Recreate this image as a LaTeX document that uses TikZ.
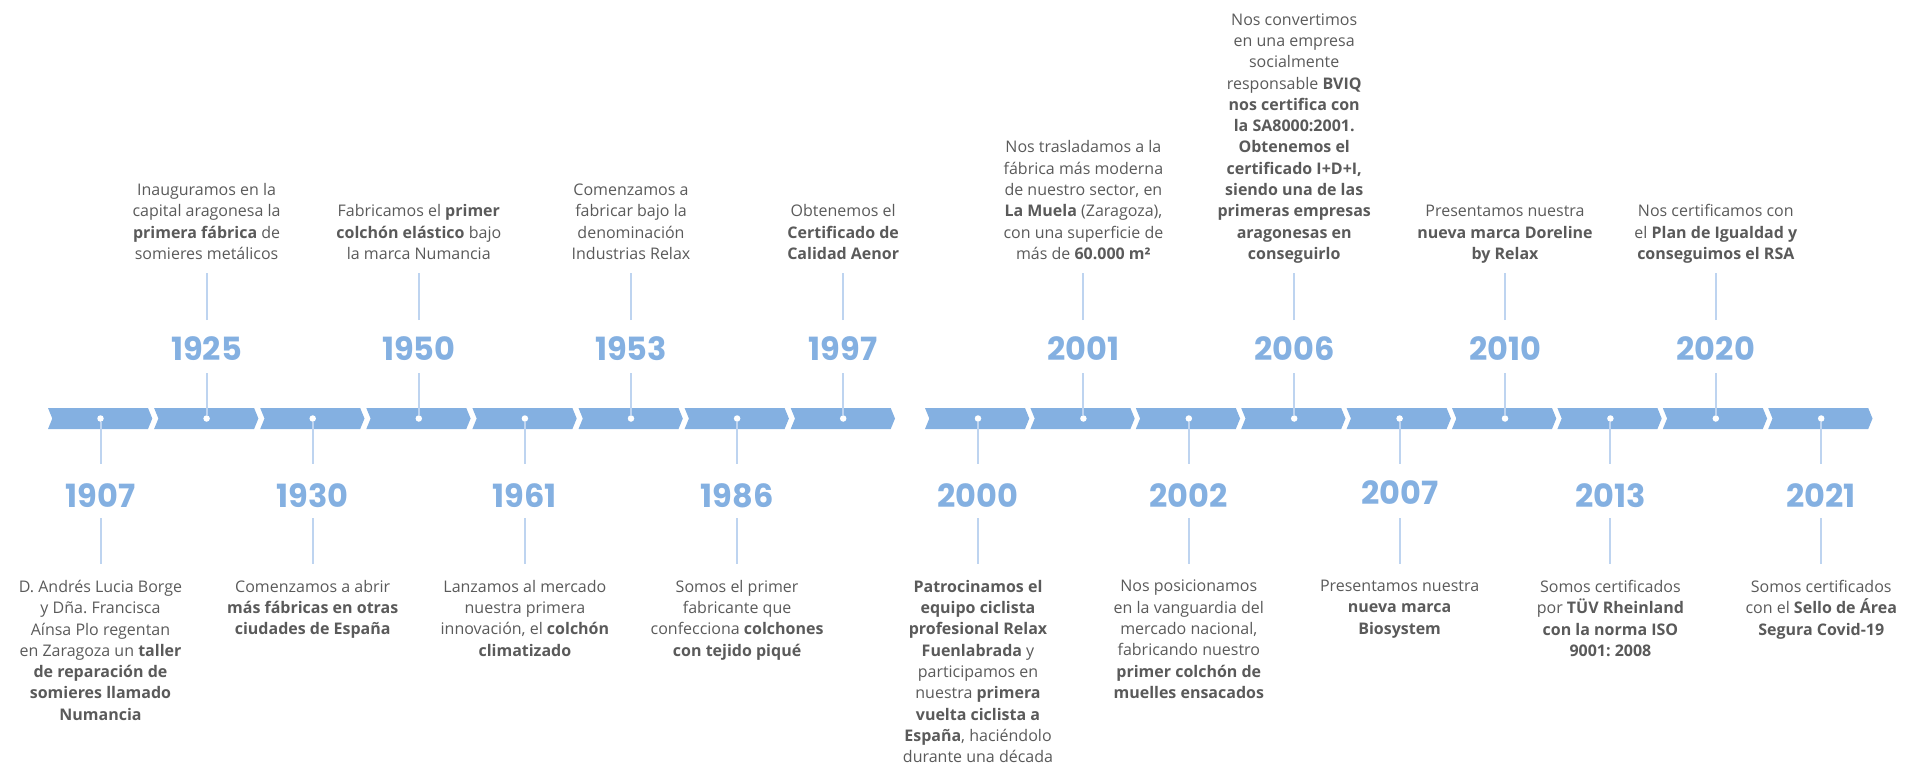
\documentclass[tikz,border=0pt]{standalone}
\usepackage{fontspec}
\setmainfont{Open Sans}
\newfontfamily\yearfont{Poppins}
\definecolor{chevblue}{HTML}{84B0E1}
\definecolor{stemblue}{HTML}{BED4F0}
\definecolor{bodygray}{HTML}{5A5A5A}
\frenchspacing

\begin{document}
\begin{tikzpicture}[x=1pt,y=-1pt]
			\tikzstyle{every node}+=[inner sep=0pt]
			\tikzstyle{chev}=[fill=chevblue]
			\tikzstyle{stem}=[draw=stemblue, line width=2pt]
			\tikzstyle{dot}=[circle, fill=white, minimum size=6.5pt]
			\tikzstyle{year}=[text=chevblue, font=\yearfont\bfseries\fontsize{32}{32}\selectfont]
			\tikzstyle{upper}=[anchor=south, align=center, text=bodygray, font=\fontsize{16}{21.3}\selectfont, execute at end node=\strut]
			\tikzstyle{lower}=[anchor=north, align=center, text=bodygray, font=\fontsize{16}{21.3}\selectfont, execute at begin node=\strut]
			\useasboundingbox (0,0) rectangle (1908,766);
			% left band
			\fill [chev] (48,408) -- ++(100,0) -- ++(4.3,10.5) -- ++(-4.3,10.5) -- ++(-100,0) -- ++(4.3,-10.5) -- cycle;
			\fill [chev] (154.1,408) -- ++(100,0) -- ++(4.3,10.5) -- ++(-4.3,10.5) -- ++(-100,0) -- ++(4.3,-10.5) -- cycle;
			\fill [chev] (260.2,408) -- ++(100,0) -- ++(4.3,10.5) -- ++(-4.3,10.5) -- ++(-100,0) -- ++(4.3,-10.5) -- cycle;
			\fill [chev] (366.3,408) -- ++(100,0) -- ++(4.3,10.5) -- ++(-4.3,10.5) -- ++(-100,0) -- ++(4.3,-10.5) -- cycle;
			\fill [chev] (472.4,408) -- ++(100,0) -- ++(4.3,10.5) -- ++(-4.3,10.5) -- ++(-100,0) -- ++(4.3,-10.5) -- cycle;
			\fill [chev] (578.5,408) -- ++(100,0) -- ++(4.3,10.5) -- ++(-4.3,10.5) -- ++(-100,0) -- ++(4.3,-10.5) -- cycle;
			\fill [chev] (684.6,408) -- ++(100,0) -- ++(4.3,10.5) -- ++(-4.3,10.5) -- ++(-100,0) -- ++(4.3,-10.5) -- cycle;
			\fill [chev] (790.7,408) -- ++(100,0) -- ++(4.3,10.5) -- ++(-4.3,10.5) -- ++(-100,0) -- ++(4.3,-10.5) -- cycle;
			% right band
			\fill [chev] (925,408) -- ++(100,0) -- ++(4.3,10.5) -- ++(-4.3,10.5) -- ++(-100,0) -- ++(4.3,-10.5) -- cycle;
			\fill [chev] (1030.4,408) -- ++(100,0) -- ++(4.3,10.5) -- ++(-4.3,10.5) -- ++(-100,0) -- ++(4.3,-10.5) -- cycle;
			\fill [chev] (1135.8,408) -- ++(100,0) -- ++(4.3,10.5) -- ++(-4.3,10.5) -- ++(-100,0) -- ++(4.3,-10.5) -- cycle;
			\fill [chev] (1241.2,408) -- ++(100,0) -- ++(4.3,10.5) -- ++(-4.3,10.5) -- ++(-100,0) -- ++(4.3,-10.5) -- cycle;
			\fill [chev] (1346.6,408) -- ++(100,0) -- ++(4.3,10.5) -- ++(-4.3,10.5) -- ++(-100,0) -- ++(4.3,-10.5) -- cycle;
			\fill [chev] (1452,408) -- ++(100,0) -- ++(4.3,10.5) -- ++(-4.3,10.5) -- ++(-100,0) -- ++(4.3,-10.5) -- cycle;
			\fill [chev] (1557.4,408) -- ++(100,0) -- ++(4.3,10.5) -- ++(-4.3,10.5) -- ++(-100,0) -- ++(4.3,-10.5) -- cycle;
			\fill [chev] (1662.8,408) -- ++(100,0) -- ++(4.3,10.5) -- ++(-4.3,10.5) -- ++(-100,0) -- ++(4.3,-10.5) -- cycle;
			\fill [chev] (1768.2,408) -- ++(100,0) -- ++(4.3,10.5) -- ++(-4.3,10.5) -- ++(-100,0) -- ++(4.3,-10.5) -- cycle;
			% 1907
			\node [dot] (d1907) at (100.5,418.5) {};
			\coordinate (s1907) at (100.5,464);
			\node [year] (y1907) at (100.5,496) {1907};
			\coordinate (a1907) at (100.5,518);
			\coordinate (b1907) at (100.5,564);
			\node [lower] (t1907) at (100.5,580) {D. Andrés Lucia Borge\\ y Dña. Francisca\\ Aínsa Plo regentan\\ en Zaragoza un \textbf{taller}\\ \textbf{de reparación de}\\ \textbf{somieres llamado}\\ \textbf{Numancia}};
			% 1925
			\node [dot] (d1925) at (206.6,418.5) {};
			\coordinate (s1925) at (206.6,373);
			\node [year] (y1925) at (206.6,349) {1925};
			\coordinate (a1925) at (206.6,320);
			\coordinate (b1925) at (206.6,273);
			\node [upper] (t1925) at (206.6,266) {Inauguramos en la\\ capital aragonesa la\\ \textbf{primera fábrica} de\\ somieres metálicos};
			% 1930
			\node [dot] (d1930) at (312.7,418.5) {};
			\coordinate (s1930) at (312.7,464);
			\node [year] (y1930) at (312.7,496) {1930};
			\coordinate (a1930) at (312.7,518);
			\coordinate (b1930) at (312.7,564);
			\node [lower] (t1930) at (312.7,580) {Comenzamos a abrir\\ \textbf{más fábricas en otras}\\ \textbf{ciudades de España}};
			% 1950
			\node [dot] (d1950) at (418.8,418.5) {};
			\coordinate (s1950) at (418.8,373);
			\node [year] (y1950) at (418.8,349) {1950};
			\coordinate (a1950) at (418.8,320);
			\coordinate (b1950) at (418.8,273);
			\node [upper] (t1950) at (418.8,266) {Fabricamos el \textbf{primer}\\ \textbf{colchón elástico} bajo\\ la marca Numancia};
			% 1961
			\node [dot] (d1961) at (524.9,418.5) {};
			\coordinate (s1961) at (524.9,464);
			\node [year] (y1961) at (524.9,496) {1961};
			\coordinate (a1961) at (524.9,518);
			\coordinate (b1961) at (524.9,564);
			\node [lower] (t1961) at (524.9,580) {Lanzamos al mercado\\ nuestra primera\\ innovación, el \textbf{colchón}\\ \textbf{climatizado}};
			% 1953
			\node [dot] (d1953) at (631,418.5) {};
			\coordinate (s1953) at (631,373);
			\node [year] (y1953) at (631,349) {1953};
			\coordinate (a1953) at (631,320);
			\coordinate (b1953) at (631,273);
			\node [upper] (t1953) at (631,266) {Comenzamos a\\ fabricar bajo la\\ denominación\\ Industrias Relax};
			% 1986
			\node [dot] (d1986) at (737.1,418.5) {};
			\coordinate (s1986) at (737.1,464);
			\node [year] (y1986) at (737.1,496) {1986};
			\coordinate (a1986) at (737.1,518);
			\coordinate (b1986) at (737.1,564);
			\node [lower] (t1986) at (737.1,580) {Somos el primer\\ fabricante que\\ confecciona \textbf{colchones}\\ \textbf{con tejido piqué}};
			% 1997
			\node [dot] (d1997) at (843.2,418.5) {};
			\coordinate (s1997) at (843.2,373);
			\node [year] (y1997) at (843.2,349) {1997};
			\coordinate (a1997) at (843.2,320);
			\coordinate (b1997) at (843.2,273);
			\node [upper] (t1997) at (843.2,266) {Obtenemos el\\ \textbf{Certificado de}\\ \textbf{Calidad Aenor}};
			% 2000
			\node [dot] (d2000) at (978,418.5) {};
			\coordinate (s2000) at (978,464);
			\node [year] (y2000) at (978,496) {2000};
			\coordinate (a2000) at (978,518);
			\coordinate (b2000) at (978,564);
			\node [lower] (t2000) at (978,580) {\textbf{Patrocinamos el}\\ \textbf{equipo ciclista}\\ \textbf{profesional Relax}\\ \textbf{Fuenlabrada} y\\ participamos en\\ nuestra \textbf{primera}\\ \textbf{vuelta ciclista a}\\ \textbf{España}, haciéndolo\\ durante una década};
			% 2001
			\node [dot] (d2001) at (1083.4,418.5) {};
			\coordinate (s2001) at (1083.4,373);
			\node [year] (y2001) at (1083.4,349) {2001};
			\coordinate (a2001) at (1083.4,320);
			\coordinate (b2001) at (1083.4,273);
			\node [upper] (t2001) at (1083.4,266) {Nos trasladamos a la\\ fábrica más moderna\\ de nuestro sector, en\\ \textbf{La Muela} (Zaragoza),\\ con una superficie de\\ más de \textbf{60.000 m²}};
			% 2002
			\node [dot] (d2002) at (1188.8,418.5) {};
			\coordinate (s2002) at (1188.8,464);
			\node [year] (y2002) at (1188.8,496) {2002};
			\coordinate (a2002) at (1188.8,518);
			\coordinate (b2002) at (1188.8,564);
			\node [lower] (t2002) at (1188.8,580) {Nos posicionamos\\ en la vanguardia del\\ mercado nacional,\\ fabricando nuestro\\ \textbf{primer colchón de}\\ \textbf{muelles ensacados}};
			% 2006
			\node [dot] (d2006) at (1294.2,418.5) {};
			\coordinate (s2006) at (1294.2,373);
			\node [year] (y2006) at (1294.2,349) {2006};
			\coordinate (a2006) at (1294.2,320);
			\coordinate (b2006) at (1294.2,273);
			\node [upper] (t2006) at (1294.2,266) {Nos convertimos\\ en una empresa\\ socialmente\\ responsable \textbf{BVIQ}\\ \textbf{nos certifica con}\\ \textbf{la SA8000:2001.}\\ \textbf{Obtenemos el}\\ \textbf{certificado I+D+I,}\\ \textbf{siendo una de las}\\ \textbf{primeras empresas}\\ \textbf{aragonesas en}\\ \textbf{conseguirlo}};
			% 2007
			\node [dot] (d2007) at (1399.6,418.5) {};
			\coordinate (s2007) at (1399.6,464);
			\node [year] (y2007) at (1399.6,493) {2007};
			\coordinate (a2007) at (1399.6,518);
			\coordinate (b2007) at (1399.6,564);
			\node [lower] (t2007) at (1399.6,580) {Presentamos nuestra\\ \textbf{nueva marca}\\ \textbf{Biosystem}};
			% 2010
			\node [dot] (d2010) at (1505,418.5) {};
			\coordinate (s2010) at (1505,373);
			\node [year] (y2010) at (1505,349) {2010};
			\coordinate (a2010) at (1505,320);
			\coordinate (b2010) at (1505,273);
			\node [upper] (t2010) at (1505,266) {Presentamos nuestra\\ \textbf{nueva marca Doreline}\\ \textbf{by Relax}};
			% 2013
			\node [dot] (d2013) at (1610.4,418.5) {};
			\coordinate (s2013) at (1610.4,464);
			\node [year] (y2013) at (1610.4,496) {2013};
			\coordinate (a2013) at (1610.4,518);
			\coordinate (b2013) at (1610.4,564);
			\node [lower] (t2013) at (1610.4,580) {Somos certificados\\ por \textbf{TÜV Rheinland}\\ \textbf{con la norma ISO}\\ \textbf{9001: 2008}};
			% 2020
			\node [dot] (d2020) at (1715.8,418.5) {};
			\coordinate (s2020) at (1715.8,373);
			\node [year] (y2020) at (1715.8,349) {2020};
			\coordinate (a2020) at (1715.8,320);
			\coordinate (b2020) at (1715.8,273);
			\node [upper] (t2020) at (1715.8,266) {Nos certificamos con\\ el \textbf{Plan de Igualdad y}\\ \textbf{conseguimos el RSA}};
			% 2021
			\node [dot] (d2021) at (1821.2,418.5) {};
			\coordinate (s2021) at (1821.2,464);
			\node [year] (y2021) at (1821.2,496) {2021};
			\coordinate (a2021) at (1821.2,518);
			\coordinate (b2021) at (1821.2,564);
			\node [lower] (t2021) at (1821.2,580) {Somos certificados\\ con el \textbf{Sello de Área}\\ \textbf{Segura Covid-19}};
			% stems
			\draw [stem] (d1907) -- (s1907) (a1907) -- (b1907);
			\draw [stem] (d1925) -- (s1925) (a1925) -- (b1925);
			\draw [stem] (d1930) -- (s1930) (a1930) -- (b1930);
			\draw [stem] (d1950) -- (s1950) (a1950) -- (b1950);
			\draw [stem] (d1961) -- (s1961) (a1961) -- (b1961);
			\draw [stem] (d1953) -- (s1953) (a1953) -- (b1953);
			\draw [stem] (d1986) -- (s1986) (a1986) -- (b1986);
			\draw [stem] (d1997) -- (s1997) (a1997) -- (b1997);
			\draw [stem] (d2000) -- (s2000) (a2000) -- (b2000);
			\draw [stem] (d2001) -- (s2001) (a2001) -- (b2001);
			\draw [stem] (d2002) -- (s2002) (a2002) -- (b2002);
			\draw [stem] (d2006) -- (s2006) (a2006) -- (b2006);
			\draw [stem] (d2007) -- (s2007) (a2007) -- (b2007);
			\draw [stem] (d2010) -- (s2010) (a2010) -- (b2010);
			\draw [stem] (d2013) -- (s2013) (a2013) -- (b2013);
			\draw [stem] (d2020) -- (s2020) (a2020) -- (b2020);
			\draw [stem] (d2021) -- (s2021) (a2021) -- (b2021);
\end{tikzpicture}
\end{document}
